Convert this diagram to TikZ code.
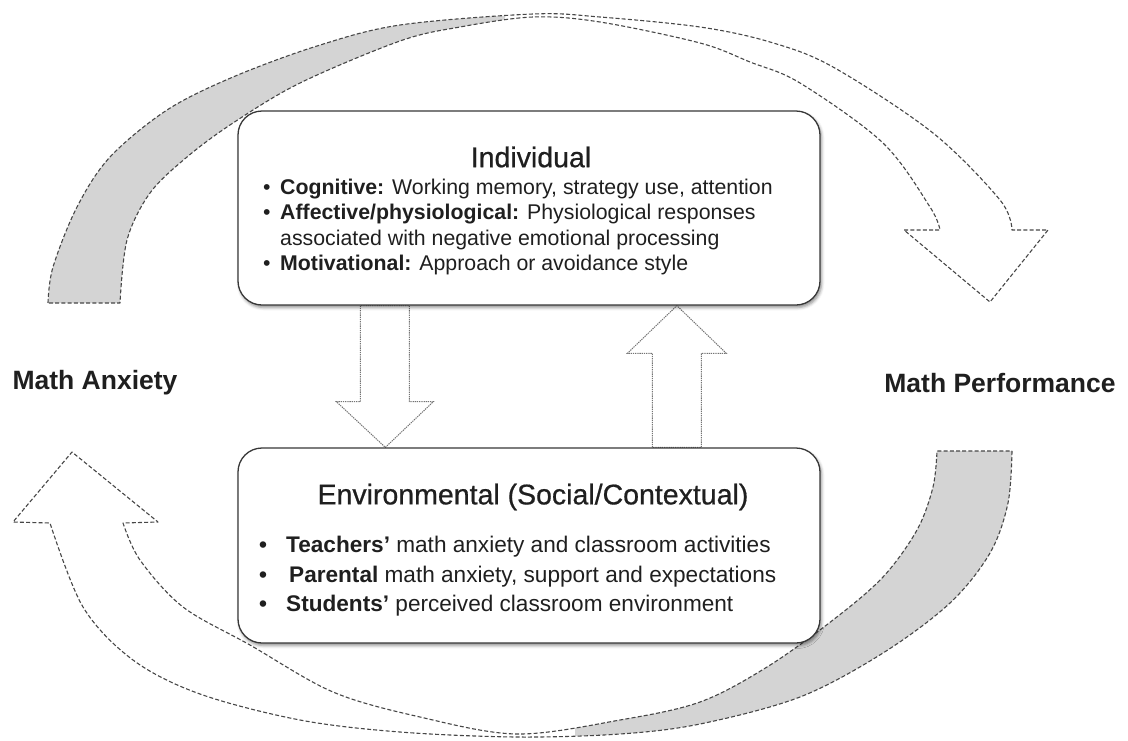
\documentclass[tikz,border=0pt]{standalone}
\usepackage{fontspec}
\setmainfont{Liberation Sans}
\newfontfamily\titlefont[FakeBold=0.6]{Liberation Sans}
\usetikzlibrary{shadows.blur,calc}
\pgfdeclarelayer{background}
\pgfsetlayers{background,main}
\begin{document}
\begin{tikzpicture}[x=1pt,y=-1pt,
  bigband/.style={draw=black!72, line width=1.1pt, dash pattern=on 4pt off 2.2pt, line join=round},
  bandfill/.style={fill=black!17},
  blockarr/.style={draw=black!55, line width=1pt, dash pattern=on 1.3pt off 0.9pt, line join=miter},
  box/.style={draw=black!78, line width=1.3pt, rounded corners=24pt, fill=white, inner sep=0pt,
    blur shadow={shadow xshift=1.5pt, shadow yshift=-2.5pt, shadow blur radius=3pt, shadow opacity=45}},
  title/.style={font=\titlefont\fontsize{28.5}{32}\selectfont, text=black!88, inner sep=0pt},
  indlist/.style={font=\fontsize{21.3}{25.3}\selectfont, text=black!88, inner sep=0pt, align=left, anchor=north west},
  envlist/.style={font=\fontsize{22.6}{29.5}\selectfont, text=black!88, inner sep=0pt, align=left, anchor=north west},
  side/.style={font=\bfseries\fontsize{26.5}{30}\selectfont, text=black!88, inner sep=0pt}
]
\useasboundingbox (0,0) rectangle (1128,740);

% boxes
\node[box, minimum width=582pt, minimum height=194pt] (ind) at (529,208) {};
\node[box, minimum width=582pt, minimum height=195pt] (env) at (529,545.5) {};

% texts
\node[title] (indt) at (531,157) {Individual};
\node[indlist] (indl) at (263,179) {%
\makebox[17pt][l]{•}\textbf{Cognitive:} Working memory, strategy use, attention\\
\makebox[17pt][l]{•}\textbf{Affective/physiological:} Physiological responses\\
\hspace*{17pt}associated with negative emotional processing\\
\makebox[17pt][l]{•}\textbf{Motivational:} Approach or avoidance style};

\node[title] (envt) at (533,497) {Environmental (Social/Contextual)};
\node[envlist] (envl) at (259,536) {%
\makebox[27pt][l]{\textbf{•}}\textbf{Teachers’} math anxiety and classroom activities\\
\makebox[30pt][l]{\textbf{•}}\textbf{Parental} math anxiety, support and expectations\\
\makebox[27pt][l]{\textbf{•}}\textbf{Students’} perceived classroom environment};

\node[side] (ma) at (95,383) {Math Anxiety};
\node[side] (mp) at (1000,383) {Math Performance};

\begin{pgfonlayer}{background}
% top band: Math Anxiety -> Math Performance
\path[save path=\topband]
  plot[smooth,tension=0.55] coordinates {(48,303) (53,267) (77,207) (110,157) (167,110) (233,77) (317,46) (400,25) (533,14) (600,17) (700,27) (770,42) (833,67) (933,133) (1000,200) (1012,230)}
  -- (1048,230) -- (990,302) -- (904,230)
  -- plot[smooth,tension=0.55] coordinates {(940,230) (930,207) (883,143) (800,83) (750,62) (700,43) (600,22) (533,17) (460,27) (400,41) (300,83) (233,123) (187,157) (150,193) (127,240) (120,303)}
  -- cycle;
\begin{scope}
  \clip (0,0) rectangle (505,740);
  \fill[bandfill, use path=\topband];
\end{scope}
\draw[bigband, use path=\topband];

% bottom band: Math Performance -> Math Anxiety
\path[save path=\botband]
  plot[smooth,tension=0.55] coordinates {(1012,451) (1008,503) (990,553) (950,603) (883,653) (800,697) (700,724) (620,734) (517,737) (400,732) (300,720) (200,694) (133,660) (83,607) (50,523)}
  -- (13,522) -- (72,452) -- (158,522)
  -- plot[smooth,tension=0.55] coordinates {(123,523) (140,560) (183,607) (250,645) (333,692) (420,717) (517,734) (620,720) (700,702) (767,667) (833,620) (883,577) (917,530) (933,487) (937,451)}
  -- cycle;
\begin{scope}
  \clip (575,0) rectangle (1128,740);
  \fill[bandfill, use path=\botband];
\end{scope}
\draw[bigband, use path=\botband];

% block arrows between the boxes
\draw[blockarr] ($(ind.south west)+(123,0)$) -- ++(0,96) -- ++(-24,0)
  -- ($(env.north west)+(148,0)$) -- ($(ind.south west)+(196,96)$) -- ++(-24,0)
  -- ($(ind.south west)+(172,0)$) -- cycle;
\draw[blockarr] ($(env.north west)+(415,0)$) -- ++(0,-94) -- ++(-25,0)
  -- ($(ind.south west)+(439.5,0)$) -- ($(env.north west)+(489,-94)$) -- ++(-25,0)
  -- ($(env.north west)+(464,0)$) -- cycle;
\end{pgfonlayer}
\end{tikzpicture}
\end{document}
